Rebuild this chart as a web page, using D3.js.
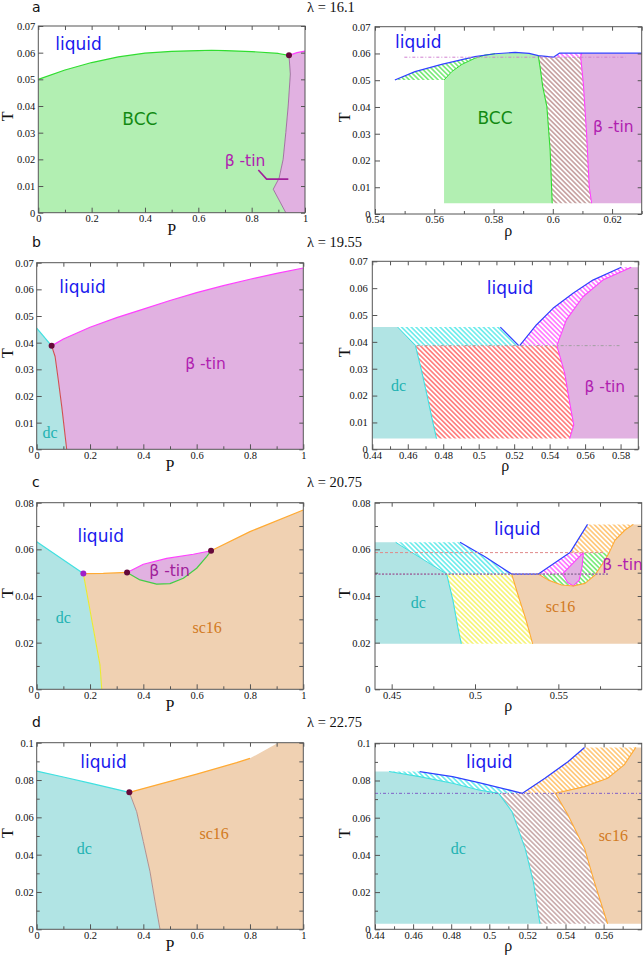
<!DOCTYPE html>
<html><head><meta charset="utf-8">
<script src="https://cdn.jsdelivr.net/npm/d3@7"></script>
<style>body{margin:0;background:#fff}svg{display:block}</style>
</head><body>
<svg id="c" width="643" height="955"></svg>
<script>
// ================= DATA =================
const panelLetters = ["a","b","c","d"];
const lambdaLabels = ["λ = 16.1","λ = 19.55","λ = 20.75","λ = 22.75"];

// tick values
const tP = [0,0.2,0.4,0.6,0.8,1], tPm = [0.1,0.3,0.5,0.7,0.9];
const tT7 = [0,0.01,0.02,0.03,0.04,0.05,0.06,0.07];
const tT8 = [0,0.02,0.04,0.06,0.08], tT8m = [0.01,0.03,0.05,0.07];
const tT10 = [0,0.02,0.04,0.06,0.08,0.1], tT10m = [0.01,0.03,0.05,0.07,0.09];
const tRa = [0.54,0.56,0.58,0.6,0.62], tRam = [0.55,0.57,0.59,0.61,0.63];
const tRb = [0.44,0.46,0.48,0.5,0.52,0.54,0.56,0.58], tRbm = [0.45,0.47,0.49,0.51,0.53,0.55,0.57,0.59];
const tRc = [0.45,0.5,0.55], tRcm = [0.475,0.525,0.575];
const tRd = [0.44,0.46,0.48,0.5,0.52,0.54,0.56], tRdm = [0.45,0.47,0.49,0.51,0.53,0.55,0.57];

// ---- panel a, (P,T) ----
const aL_liqBcc = [[0,0.0500],[0.1,0.0535],[0.2,0.0563],[0.3,0.0584],[0.4,0.0598],[0.5,0.0605],[0.6,0.0608],[0.65,0.0609],[0.7,0.0608],[0.8,0.0604],[0.9,0.0597],[0.94,0.0590]];
const aL_bccBeta = [[0.94,0.0590],[0.945,0.052],[0.937,0.040],[0.928,0.030],[0.918,0.020],[0.903,0.013],[0.881,0.0088],[0.928,0]];
const aL_betaLiq = [[0.94,0.0590],[0.97,0.0600],[1,0.0606]];
const aL_pointer = [[0.825,0.0160],[0.856,0.0126],[0.9375,0.0126]];
const aL_triple = [[0.94,0.0590]];
// ---- panel a, (rho,T) ----
const aR_liq = [[0.5467,0.0501],[0.5535,0.0532],[0.5625,0.0559],[0.5737,0.0588],[0.5805,0.0599],[0.5873,0.0604],[0.5920,0.0600],[0.5951,0.0592],[0.6002,0.0586],[0.6022,0.0601],[0.6300,0.0601]];
const aR_bccTop = [[0.5633,0.0501],[0.5659,0.0532],[0.5693,0.0559],[0.5737,0.0582],[0.5771,0.0594],[0.5805,0.0599]];
const aR_bccRight = [[0.5951,0.0592],[0.5957,0.0550],[0.5966,0.0476],[0.5980,0.0401],[0.5991,0.0239],[0.5998,0.0040]];
const aR_betaLeft = [[0.6098,0.0601],[0.6094,0.0588],[0.6103,0.0488],[0.6114,0.0301],[0.6123,0.0102],[0.6131,0.0040]];
const aR_tieline = [[0.5499,0.0586],[0.6246,0.0586]];

// ---- panel b, (P,T) ----
const bL_dcLiq = [[0,0.0455],[0.056,0.0388]];
const bL_betaLiq = [[0.056,0.0388],[0.1,0.0414],[0.2,0.0458],[0.3,0.0494],[0.4,0.0526],[0.5,0.0558],[0.6,0.0588],[0.7,0.0614],[0.8,0.0638],[0.9,0.0660],[1,0.0680]];
const bL_dcBeta = [[0.056,0.0388],[0.069,0.0348],[0.081,0.0260],[0.094,0.0160],[0.1125,0]];
const bL_triple = [[0.056,0.0388]];
// ---- panel b, (rho,T) ----
const bR_dcEdge = [[0.4543,0.0455],[0.4643,0.0386]];
const bR_dcRight = [[0.4643,0.0386],[0.4675,0.0300],[0.4706,0.0209],[0.4735,0.0120],[0.4762,0.0040]];
const bR_liqLeft = [[0.5122,0.0455],[0.5226,0.0386]];
const bR_liqRight = [[0.5231,0.0386],[0.5325,0.0463],[0.5419,0.0525],[0.5532,0.0581],[0.5644,0.0630],[0.5804,0.0678]];
const bR_betaLeft = [[0.5441,0.0386],[0.5485,0.0283],[0.5517,0.0159],[0.5536,0.0091],[0.5513,0.0040]];
const bR_betaTop = [[0.5441,0.0386],[0.5494,0.0482],[0.5588,0.0568],[0.5700,0.0630],[0.5860,0.0678]];
const bR_tieline = [[0.465,0.0386],[0.5794,0.0386]];

// ---- panel c, (P,T) ----
const cL_dcLiq = [[0,0.0633],[0.175,0.0496]];
const cL_scLiq1 = [[0.175,0.0496],[0.25,0.0497],[0.339,0.0501]];
const cL_betaLiq = [[0.339,0.0501],[0.4,0.0536],[0.4875,0.0561],[0.5875,0.0579],[0.654,0.0594]];
const cL_betaSc = [[0.339,0.0501],[0.3875,0.0469],[0.45,0.0451],[0.5,0.0453],[0.55,0.0476],[0.6,0.0519],[0.6375,0.0569],[0.654,0.0594]];
const cL_scLiq2 = [[0.654,0.0594],[0.8,0.0676],[1,0.0769]];
const cL_dcSc = [[0.175,0.0496],[0.2375,0.0104],[0.244,0]];
const cL_triples = [[0.175,0.0496],[0.339,0.0501],[0.654,0.0594]];
// ---- panel c, (rho,T) ----
const cR_dcEdge = [[0.4524,0.0630],[0.4830,0.0494]];
const cR_dcRight = [[0.4830,0.0494],[0.4868,0.0380],[0.4898,0.0261],[0.4918,0.0195]];
const cR_liq = [[0.4910,0.0630],[0.5060,0.0568],[0.5220,0.0494],[0.5380,0.0494],[0.5570,0.0586],[0.5675,0.0707]];
const cR_scLeft = [[0.5220,0.0494],[0.5260,0.0400],[0.5305,0.0300],[0.5346,0.0195]];
const cR_scTop = [[0.5380,0.0494],[0.5440,0.0468],[0.5520,0.0447],[0.5590,0.0443],[0.5660,0.0454],[0.5720,0.0490],[0.5780,0.0554],[0.5805,0.0586],[0.5840,0.0640],[0.5900,0.0683],[0.5950,0.0707]];
const cR_beta = [[0.5650,0.0586],[0.5525,0.0495],[0.5555,0.0458],[0.5590,0.0443],[0.5625,0.0468],[0.5642,0.0525]];
const cR_tieUpper = [[0.44,0.0586],[0.578,0.0586]];
const cR_tieLower = [[0.44,0.0494],[0.580,0.0494]];

// ---- panel d, (P,T) ----
const dL_dcLiq = [[0,0.0848],[0.1,0.0816],[0.2,0.0783],[0.3475,0.0734]];
const dL_scLiq = [[0.3475,0.0734],[0.6,0.0832],[0.75,0.0893],[0.8,0.0916],[0.906,0.1]];
const dL_dcSc = [[0.3475,0.0734],[0.375,0.0630],[0.4,0.0470],[0.425,0.0309],[0.444,0.0148],[0.4625,0]];
const dL_triple = [[0.3475,0.0734]];
// ---- panel d, (rho,T) ----
const dR_dcTop = [[0.4474,0.0848],[0.4634,0.0821],[0.4807,0.0785],[0.4945,0.0749],[0.5049,0.0731]];
const dR_dcRight = [[0.5049,0.0731],[0.5119,0.0633],[0.5188,0.0435],[0.5231,0.0256],[0.5266,0.0030]];
const dR_liq = [[0.4634,0.0848],[0.4807,0.0821],[0.4945,0.0789],[0.5084,0.0754],[0.5174,0.0731],[0.5292,0.0812],[0.5413,0.0901],[0.5500,0.0978]];
const dR_scLeft = [[0.5347,0.0731],[0.5413,0.0615],[0.5500,0.0435],[0.5551,0.0256],[0.5621,0.0030]];
const dR_scTop = [[0.5347,0.0731],[0.5500,0.0767],[0.5621,0.0812],[0.5708,0.0884],[0.5769,0.0978]];
const dR_tieline = [[0.44,0.0731],[0.58,0.0731]];

// ================= STYLE =================
const FILL = {bcc:"#b2efb2", beta:"#e1b1e1", dc:"#b1e4e4", sc:"#f0d1b2"};
const LN = {blue:"#3040ff", green:"#30dd30", magenta:"#ff40ff", cyan:"#40e0e0", orange:"#ffaa33", yellow:"#eaea30", red:"#d05050"};
const HATCH = {green:"#40e040", brown:"#b48a8a", magenta:"#ff40ff", cyan:"#30e4e4", red:"#ff4545", yellow:"#f2f040", orange:"#ffb040", rose:"#b07a7a"};
const SANS = "'DejaVu Sans', Verdana, sans-serif";
const SERIF = "'Liberation Serif', 'Times New Roman', serif";
const TXT = {
  liquid:{font:SANS,size:17,color:"#1a1aee"},
  bcc:{font:SANS,size:17,color:"#128a12"},
  beta:{font:SANS,size:15.5,color:"#b020b0"},
  dc:{font:SERIF,size:16,color:"#22b2b2"},
  sc:{font:SERIF,size:16,color:"#d27a22"}
};

const svg = d3.select("#c");
const defs = svg.append("defs");
Object.entries(HATCH).forEach(([k,c])=>{
  const s=3.4;
  const p=defs.append("pattern").attr("id","h-"+k).attr("patternUnits","userSpaceOnUse")
    .attr("width",s).attr("height",s).attr("patternTransform","rotate(-45)");
  p.append("rect").attr("width",s).attr("height",s).attr("fill","#fff");
  p.append("line").attr("x1",s/2).attr("y1",0).attr("x2",s/2).attr("y2",s).attr("stroke",c).attr("stroke-width",1.15);
});
const fmt = d => String(+d.toFixed(4));
let clipN = 0;

function mk(rect, xd, yd, xt, xm, yt, ym, xlab) {
  const [x0,x1,y0,y1] = rect;
  const x = d3.scaleLinear().domain(xd).range([x0,x1]);
  const y = d3.scaleLinear().domain(yd).range([y1,y0]);
  const id = "clip"+(clipN++);
  defs.append("clipPath").attr("id",id).append("rect").attr("x",x0).attr("y",y0).attr("width",x1-x0).attr("height",y1-y0);
  const g = svg.append("g");
  const data = g.append("g").attr("clip-path",`url(#${id})`);
  const over = g.append("g");
  const lineGen = d3.line().x(d=>x(d[0])).y(d=>y(d[1]));
  const api = {
    area(pts, fill){ data.append("path").attr("d", lineGen(pts)+"Z").attr("fill",fill).attr("stroke","none"); },
    hatch(pts, key){ data.append("path").attr("d", lineGen(pts)+"Z").attr("fill",`url(#h-${key})`).attr("stroke","none"); },
    line(pts, color, w=1.2, dash=null){ const p=data.append("path").attr("d", lineGen(pts)).attr("fill","none").attr("stroke",color).attr("stroke-width",w).attr("stroke-linejoin","round"); if(dash) p.attr("stroke-dasharray",dash); },
    dot(pt, color="#66093a"){ over.append("circle").attr("cx",x(pt[0])).attr("cy",y(pt[1])).attr("r",3).attr("fill",color); },
    label(t, px, py, st){ over.append("text").attr("x",x(px)).attr("y",y(py)).attr("text-anchor","middle")
        .attr("font-family",st.font).attr("font-size",st.size).attr("fill",st.color).text(t); },
    frame(){
      const axC = "#555";
      const right = x0 > 100;
      const style = s => { s.select(".domain").remove(); s.selectAll("line").attr("stroke",axC); s.selectAll("text").attr("font-family",SERIF).attr("font-size",10.5).attr("fill","#111"); };
      g.append("g").attr("transform",`translate(0,${y1})`).call(d3.axisBottom(x).tickValues(xt).tickFormat(fmt).tickSizeInner(-5).tickSizeOuter(0).tickPadding(2)).call(style);
      g.append("g").attr("transform",`translate(0,${y1})`).call(d3.axisBottom(x).tickValues(xm).tickFormat("").tickSizeInner(-3).tickSizeOuter(0)).call(style);
      g.append("g").attr("transform",`translate(0,${y0})`).call(d3.axisTop(x).tickValues(xt.concat(xm)).tickFormat("").tickSizeInner(-4).tickSizeOuter(0)).call(style);
      g.append("g").attr("transform",`translate(${x0},0)`).call(d3.axisLeft(y).tickValues(yt).tickFormat(fmt).tickSizeInner(-5).tickSizeOuter(0).tickPadding(right ? 4.5 : 3)).call(style);
      g.append("g").attr("transform",`translate(${x0},0)`).call(d3.axisLeft(y).tickValues(ym).tickFormat("").tickSizeInner(-3).tickSizeOuter(0)).call(style);
      g.append("g").attr("transform",`translate(${x1},0)`).call(d3.axisRight(y).tickValues(yt.concat(ym)).tickFormat("").tickSizeInner(-4).tickSizeOuter(0)).call(style);
      g.append("rect").attr("x",x0).attr("y",y0).attr("width",x1-x0).attr("height",y1-y0).attr("fill","none").attr("stroke",axC).attr("stroke-width",1);
      g.append("text").attr("x",(x0+x1)/2).attr("y",y1+22).attr("text-anchor","middle").attr("font-family",SERIF).attr("font-size",16).attr("fill","#111").text(xlab);
      const tx = right ? 344 : 7;
      g.append("text").attr("transform",`translate(${tx},${(y0+y1)/2-3}) rotate(-90)`).attr("text-anchor","middle").attr("dy","0.35em").attr("font-family",SERIF).attr("font-size",16).attr("fill","#111").text("T");
    }
  };
  return api;
}
const rev = a => a.slice().reverse();

// titles
const titleY = [11.5, 246.5, 487, 727];
titleY.forEach((ty,i)=>{
  svg.append("text").attr("x",32).attr("y",ty).attr("font-family",SANS).attr("font-size",14).attr("fill","#111").text(panelLetters[i]);
  svg.append("text").attr("x",307).attr("y",ty).attr("font-family",SERIF).attr("font-size",14.5).attr("fill","#111").text(lambdaLabels[i]);
});

// ---------- a left ----------
{
  const p = mk([38.3,305,26,212.7],[0,1],[0,0.07],tP,tPm,tT7,[],"P");
  p.area([[0,0],...aL_liqBcc,...aL_bccBeta.slice(1)], FILL.bcc);
  p.area([...aL_bccBeta,[1,0],...rev(aL_betaLiq)], FILL.beta);
  p.line(aL_liqBcc, LN.green);
  p.line(aL_bccBeta, "#9a6a9a", 0.9);
  p.line(aL_betaLiq, LN.magenta);
  p.frame();
  p.line(aL_pointer, "#a0209a", 1.6);
  p.dot(aL_triple[0]);
  p.label("liquid",0.151,0.061,TXT.liquid);
  p.label("BCC",0.381,0.0329,TXT.bcc);
  p.label("β -tin",0.775,0.0176,TXT.beta);
}
// ---------- a right ----------
{
  const p = mk([375,641.7,26.7,214],[0.54,0.63],[0,0.07],tRa,tRam,tT7,[],"ρ");
  p.hatch([...aR_liq.slice(0,5),...rev(aR_bccTop)], "green");
  p.area([[0.5633,0.004],...aR_bccTop,...aR_liq.slice(5,8),...aR_bccRight.slice(1)], FILL.bcc);
  p.hatch([...aR_bccRight,...rev(aR_betaLeft.slice(1)),aR_liq[8]], "rose");
  p.hatch([aR_liq[8],aR_liq[9],aR_betaLeft[0],aR_betaLeft[1]], "magenta");
  p.area([...aR_betaLeft,[0.63,0.004],[0.63,0.0601]], FILL.beta);
  p.line(aR_bccTop, LN.green, 1);
  p.line(aR_bccRight, LN.green, 1.1);
  p.line(aR_betaLeft, LN.magenta, 1.1);
  p.line(aR_liq, LN.blue, 1.2);
  p.line(aR_tieline, "#d080d0", 1, "3,2,1,2");
  p.frame();
  p.label("liquid",0.5546,0.062,TXT.liquid);
  p.label("BCC",0.5805,0.0336,TXT.bcc);
  p.label("β -tin",0.6204,0.0306,TXT.beta);
}
// ---------- b left ----------
{
  const p = mk([36.7,303.3,262.7,449.3],[0,1],[0,0.07],tP,tPm,tT7,[],"P");
  p.area([[0,0],...bL_dcLiq,...bL_dcBeta.slice(1)], FILL.dc);
  p.area([...bL_dcBeta,[1,0],...rev(bL_betaLiq)], FILL.beta);
  p.line(bL_dcLiq, LN.cyan);
  p.line(bL_betaLiq, LN.magenta);
  p.line(bL_dcBeta, LN.red, 1.1);
  p.frame();
  p.dot(bL_triple[0]);
  p.label("liquid",0.172,0.0587,TXT.liquid);
  p.label("β -tin",0.633,0.0301,TXT.beta);
  p.label("dc",0.05,0.0042,TXT.dc);
}
// ---------- b right ----------
{
  const p = mk([372.3,638.3,261.3,449.3],[0.44,0.59],[0,0.07],tRb,tRbm,tT7,[],"ρ");
  p.area([[0.44,0.004],[0.44,0.0455],...bR_dcEdge,...bR_dcRight.slice(1)], FILL.dc);
  p.hatch([bR_dcEdge[0],...bR_liqLeft,bR_dcEdge[1]], "cyan");
  p.hatch([...bR_dcRight,...rev(bR_betaLeft)], "red");
  p.hatch([...bR_liqRight,...rev(bR_betaTop)], "magenta");
  p.area([...rev(bR_betaLeft),...bR_betaTop.slice(1),[0.59,0.0678],[0.59,0.004]], FILL.beta);
  p.line(bR_dcEdge, LN.cyan, 1);
  p.line(bR_dcRight, LN.cyan, 1.1);
  p.line(bR_betaLeft, LN.magenta, 1.1);
  p.line(bR_betaTop, LN.magenta, 1.1);
  p.line(bR_liqLeft, LN.blue, 1.2);
  p.line(bR_liqRight, LN.blue, 1.2);
  p.line(bR_tieline, "#a0a0a0", 1, "3,2,1,2");
  p.frame();
  p.label("liquid",0.5177,0.0577,TXT.liquid);
  p.label("dc",0.4548,0.0218,TXT.dc);
  p.label("β -tin",0.5711,0.0213,TXT.beta);
}
// ---------- c left ----------
{
  const p = mk([36.7,303.3,502.7,689.3],[0,1],[0,0.08],tP,tPm,tT8,tT8m,"P");
  p.area([[0,0],...cL_dcLiq,...cL_dcSc.slice(1)], FILL.dc);
  p.area([...rev(cL_dcSc),...cL_scLiq1.slice(1),...cL_betaSc.slice(1),...cL_scLiq2.slice(1),[1,0]], FILL.sc);
  p.area([...cL_betaLiq,...rev(cL_betaSc)], FILL.beta);
  p.line(cL_dcLiq, LN.cyan);
  p.line(cL_scLiq1, LN.orange);
  p.line(cL_scLiq2, LN.orange);
  p.line(cL_betaLiq, LN.magenta);
  p.line(cL_betaSc, "#44cc44");
  p.line(cL_dcSc, LN.yellow, 1.1);
  p.frame();
  p.dot(cL_triples[0], "#a020c8");
  p.dot(cL_triples[1]);
  p.dot(cL_triples[2]);
  p.label("liquid",0.24,0.0633,TXT.liquid);
  p.label("β -tin",0.4987,0.0486,{...TXT.beta,color:"#a0209a"});
  p.label("dc",0.0994,0.0284,TXT.dc);
  p.label("sc16",0.6394,0.0241,TXT.sc);
}
// ---------- c right ----------
{
  const p = mk([375,641.7,502.7,689.3],[0.44,0.60],[0,0.08],tRc,tRcm,tT8,tT8m,"ρ");
  p.area([[0.44,0.0195],[0.44,0.063],...cR_dcEdge,...cR_dcRight.slice(1)], FILL.dc);
  p.hatch([cR_dcEdge[0],...cR_liq.slice(0,3),cR_dcEdge[1]], "cyan");
  p.hatch([...cR_dcRight,...rev(cR_scLeft)], "yellow");
  p.area([...rev(cR_scLeft),...cR_scTop,[0.60,0.0707],[0.60,0.0195]], FILL.sc);
  p.hatch([...cR_scTop.slice(0,8),cR_beta[0],cR_beta[1]], "green");
  p.hatch([cR_liq[3],cR_liq[4],cR_beta[0],cR_beta[1]], "magenta");
  p.hatch([cR_liq[4],cR_liq[5],cR_scTop[10],...rev(cR_scTop.slice(7,10))], "orange");
  p.area(cR_beta, FILL.beta);
  p.line([...cR_beta,cR_beta[0]], LN.magenta, 1.1);
  p.line(cR_dcEdge, LN.cyan, 1);
  p.line(cR_dcRight, LN.cyan, 1.1);
  p.line(cR_scLeft, LN.orange, 1.1);
  p.line(cR_scTop, LN.orange, 1.1);
  p.line(cR_liq, LN.blue, 1.2);
  p.line(cR_tieUpper, "#e08888", 1, "3,2");
  p.line(cR_tieLower, "#a07aa8", 1.6, "2,1.5");
  p.frame();
  p.label("liquid",0.5254,0.0661,TXT.liquid);
  p.label("dc",0.466,0.0348,TXT.dc);
  p.label("sc16",0.5513,0.0331,TXT.sc);
  p.label("β -tin",0.5885,0.0511,TXT.beta);
}
// ---------- d left ----------
{
  const p = mk([36.7,303.3,742.7,929.3],[0,1],[0,0.1],tP,tPm,tT10,tT10m,"P");
  p.area([[0,0],...dL_dcLiq,...dL_dcSc.slice(1)], FILL.dc);
  p.area([...dL_dcSc,[1,0],[1,0.1],...rev(dL_scLiq)], FILL.sc);
  p.line(dL_dcLiq, LN.cyan);
  p.line(dL_scLiq.slice(0,4), LN.orange);
  p.line(dL_dcSc, "#b09090", 1);
  p.frame();
  p.dot(dL_triple[0]);
  p.label("liquid",0.251,0.0863,TXT.liquid);
  p.label("dc",0.179,0.0404,TXT.dc);
  p.label("sc16",0.6656,0.0484,TXT.sc);
}
// ---------- d right ----------
{
  const p = mk([375,641.7,743.3,929.3],[0.44,0.58],[0,0.1],tRd,tRdm,tT10,tT10m,"ρ");
  p.area([[0.44,0.003],[0.44,0.0848],...dR_dcTop,...dR_dcRight.slice(1)], FILL.dc);
  p.hatch([dR_dcTop[0],...dR_liq.slice(0,5),...rev(dR_dcTop)], "cyan");
  p.hatch([...dR_dcRight,...rev(dR_scLeft)], "brown");
  p.hatch([...dR_liq.slice(4),...rev(dR_scTop)], "orange");
  p.area([...rev(dR_scLeft),...dR_scTop.slice(1),[0.58,0.0978],[0.58,0.003]], FILL.sc);
  p.line(dR_dcTop, LN.cyan, 1.1);
  p.line(dR_dcRight, LN.cyan, 1.1);
  p.line(dR_scLeft, LN.orange, 1.1);
  p.line(dR_scTop, LN.orange, 1.1);
  p.line(dR_liq, LN.blue, 1.3);
  p.line(dR_tieline, "#8060c8", 1, "3,2,1,2");
  p.frame();
  p.label("liquid",0.5,0.0866,TXT.liquid);
  p.label("dc",0.4837,0.0405,TXT.dc);
  p.label("sc16",0.5651,0.0475,TXT.sc);
}
</script>
</body></html>
